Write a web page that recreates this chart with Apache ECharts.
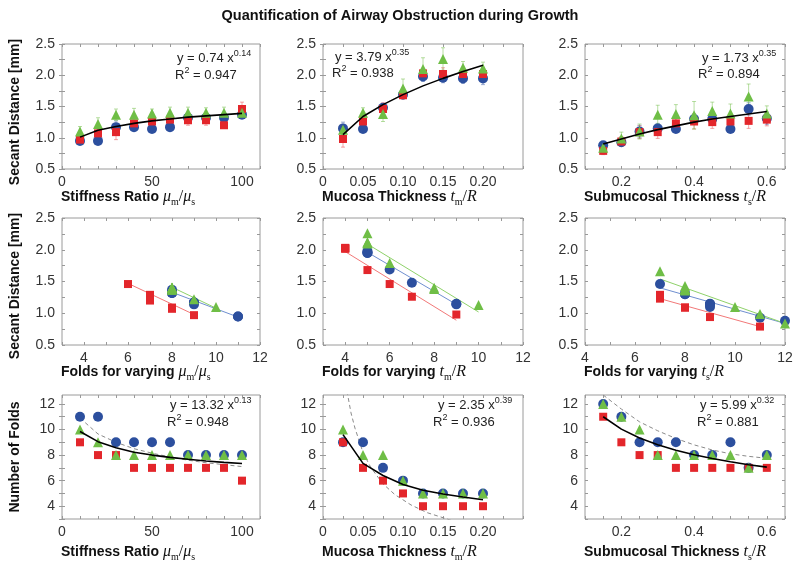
<!DOCTYPE html>
<html><head><meta charset="utf-8">
<script src="https://cdn.jsdelivr.net/npm/echarts@6/dist/echarts.min.js"></script>
<style>html,body{margin:0;padding:0;background:#fff}#c{width:800px;height:564px}</style>
</head><body><div id="c"></div><script>
// ---------- data ----------
const stiffX = [10,20,30,40,50,60,70,80,90,100];
const mucX = [0.025,0.05,0.075,0.1,0.125,0.15,0.175,0.2];
const subX = [0.15,0.2,0.25,0.3,0.35,0.4,0.45,0.5,0.55,0.6];

// secant distance [mm]
const secStiffBlue  = [0.95,0.95,1.17,1.17,1.14,1.17,1.32,1.32,1.32,1.37];
const secStiffRed   = [0.97,1.07,1.09,1.23,1.26,1.29,1.28,1.28,1.20,1.46];
const secStiffGreen = [1.10,1.22,1.37,1.37,1.39,1.40,1.40,1.40,1.40,1.40];
const errStiffBlue  = [0.05,0.03,0.10,0.04,0.04,0.04,0.05,0.05,0.05,0.05];
const errStiffRed   = [0.04,0.05,0.12,0.05,0.05,0.06,0.08,0.08,0.05,0.11];
const errStiffGreen = [0.08,0.10,0.09,0.10,0.07,0.09,0.09,0.08,0.09,0.08];

const secMucBlue  = [1.15,1.14,1.48,1.69,1.98,1.96,1.95,1.95];
const secMucRed   = [0.98,1.26,1.46,1.68,2.03,2.02,2.02,2.02];
const secMucGreen = [1.13,1.40,1.38,1.79,2.10,2.26,2.12,2.11];
const errMucBlue  = [0.10,0.04,0.06,0.05,0.08,0.08,0.08,0.10];
const errMucRed   = [0.13,0.08,0.10,0.05,0.08,0.10,0.08,0.10];
const errMucGreen = [0.08,0.08,0.12,0.15,0.18,0.18,0.10,0.10];

const secSubBlue  = [0.88,0.93,1.10,1.15,1.14,1.30,1.30,1.14,1.46,1.31];
const secSubRed   = [0.79,0.94,1.09,1.09,1.23,1.26,1.25,1.26,1.27,1.29];
const secSubGreen = [0.84,0.99,1.10,1.37,1.38,1.36,1.43,1.39,1.66,1.39];
const errSubBlue  = [0.05,0.06,0.10,0.08,0.05,0.08,0.08,0.05,0.10,0.10];
const errSubRed   = [0.06,0.08,0.10,0.10,0.08,0.12,0.10,0.10,0.12,0.10];
const errSubGreen = [0.05,0.10,0.12,0.15,0.15,0.22,0.14,0.15,0.20,0.12];

// number of folds
const foldStiffBlue  = [11,11,9,9,9,9,8,8,8,8];
const foldStiffRed   = [9,8,8,7,7,7,7,7,7,6];
const foldStiffGreen = [10,9,8,8,8,8,8,8,8,8];
const foldMucBlue  = [9,9,7,6,5,5,5,5];
const foldMucRed   = [9,7,6,5,4,4,4,4];
const foldMucGreen = [10,8,8,6,5,5,5,5];
const foldSubBlue  = [12,11,9,9,9,8,8,9,7,8];
const foldSubRed   = [11,9,8,8,7,7,7,7,7,7];
const foldSubGreen = [12,11,10,8,8,8,8,8,7,8];

// power-law fits
const fitStiffSec = [1.01,1.12,1.18,1.23,1.27,1.30,1.33,1.35,1.37,1.39];
const fitMucSec   = [1.05,1.34,1.53,1.69,1.83,1.95,2.06,2.16];
const fitSubSec   = [0.90,0.98,1.06,1.13,1.19,1.25,1.30,1.34,1.38,1.42];
const fitStiffFold = [9.85,9.05,8.58,8.22,8.00,7.82,7.67,7.54,7.43,7.34];
const fitMucFold   = [9.60,7.35,6.40,5.70,5.25,4.95,4.72,4.50];
const fitSubFold   = [11.0,10.03,9.33,8.81,8.38,8.03,7.73,7.48,7.25,7.06];

// dashed reference curves (row 3)
const dashStiffY = [10.9,9.65,9.0,8.5,8.15,7.85,7.6,7.4,7.25,7.1];
const dashMucX = [0.03,0.035,0.04,0.05,0.06,0.075,0.09,0.11,0.13,0.15,0.16];
const dashMucY = [13.0,11.3,10.1,8.2,7.0,5.75,4.9,4.1,3.5,3.1,2.9];
const dashSubY = [12.7,11.6,10.6,9.9,9.3,8.8,8.4,8.1,7.9,7.75];

// linear fits in row 2 (start/end)
const linStiffRed = {x:[6,9], y:[1.47,0.98]};
const linStiffBlue = {x:[8,11], y:[1.33,0.94]};
const linStiffGreen = {x:[8,10], y:[1.41,1.08]};
const linMucRed = {x:[4,9], y:[1.97,0.89]};
const linMucBlue = {x:[5,9], y:[1.96,1.14]};
const linMucGreen = {x:[5,10], y:[2.09,1.02]};
const linSubRed = {x:[7,11], y:[1.23,0.79]};
const linSubBlue = {x:[7,12], y:[1.40,0.84]};
const linSubGreen = {x:[7,12], y:[1.54,0.84]};

// tick labels
const stiffTicks = [0,50,100];
const mucTicks = [0,0.05,0.10,0.15,0.20];
const subTicks = [0.2,0.4,0.6];
const foldTicksX = [4,6,8,10,12];
const secTicks = [0.5,1.0,1.5,2.0,2.5];
const foldTicksY = [4,6,8,10,12];

const fitEq = [['0.74','0.14','0.947'],['3.79','0.35','0.938'],['1.73','0.35','0.894'],
               ['13.32','0.13','0.948'],['2.35','0.39','0.936'],['5.99','0.32','0.881']];
const titleText = 'Quantification of Airway Obstruction during Growth';

// ---------- layout / style ----------
const BLUE='#2c4f9e', RED='#e3262b', GREEN='#6fbe46';
const BLUE_E='rgba(44,79,158,0.45)', RED_E='rgba(227,38,43,0.4)', GREEN_E='rgba(111,190,70,0.5)';
const BLUE_L='#6f8fd0', RED_L='#f27878', GREEN_L='#8fd26a';
const colL=[62,323,585], colW=[198,200,200];
const rowT=[44,218,395], rowH=[125,127,124];

function range(a,b,s){const r=[];for(let v=a;v<=b+1e-9;v+=s)r.push(+v.toFixed(4));return r;}
const xDefs=[
  [{min:0,max:110,labels:stiffTicks,ticks:range(0,110,10),fmt:v=>String(v)},
   {min:0,max:0.25,labels:mucTicks,ticks:range(0,0.25,0.025),fmt:v=>v===0?'0':v.toFixed(2)},
   {min:0.1,max:0.65,labels:subTicks,ticks:range(0.1,0.65,0.05),fmt:v=>v.toFixed(1)}],
  [{min:3,max:12,labels:foldTicksX,ticks:range(3,12,1),fmt:v=>String(v)},
   {min:3,max:12,labels:foldTicksX,ticks:range(3,12,1),fmt:v=>String(v)},
   {min:4,max:12,labels:foldTicksX,ticks:range(4,12,1),fmt:v=>String(v)}]
];
xDefs.push(xDefs[0]);
const yDefs=[
  {min:0.5,max:2.5,labels:secTicks,ticks:range(0.5,2.5,0.25),fmt:v=>v.toFixed(1)},
  {min:0.5,max:2.5,labels:secTicks,ticks:range(0.5,2.5,0.25),fmt:v=>v.toFixed(1)},
  {min:3,max:12.7,labels:foldTicksY,ticks:range(3,12,1),fmt:v=>String(v)}
];

const grids=[], xAxes=[], yAxes=[], series=[];
const labelStyle={fontFamily:'Liberation Sans',fontSize:14,color:'#333'};
for(let r=0;r<3;r++)for(let c=0;c<3;c++){
  const gi=r*3+c;
  grids.push({left:colL[c],top:rowT[r],width:colW[c],height:rowH[r],show:true,borderColor:'#9a9a9a',borderWidth:1,backgroundColor:'transparent'});
  const xd=xDefs[r][c], yd=yDefs[r];
  ['bottom','top'].forEach(pos=>xAxes.push({type:'value',gridIndex:gi,position:pos,min:xd.min,max:xd.max,
    axisLine:{show:false},splitLine:{show:false},
    axisTick:{show:true,inside:true,length:3,customValues:xd.ticks,lineStyle:{color:'#999'}},
    axisLabel:Object.assign({show:pos==='bottom',customValues:xd.labels,formatter:xd.fmt,margin:6},labelStyle)}));
  ['left','right'].forEach(pos=>yAxes.push({type:'value',gridIndex:gi,position:pos,min:yd.min,max:yd.max,
    axisLine:{show:false},splitLine:{show:false},
    axisTick:{show:true,inside:true,length:3,customValues:yd.ticks,lineStyle:{color:'#999'}},
    axisLabel:Object.assign({show:pos==='left',customValues:yd.labels,formatter:yd.fmt,margin:7},labelStyle)}));
}
const axIdx=gi=>({xAxisIndex:gi*2,yAxisIndex:gi*2});
const pairs=(xs,ys)=>xs.map((x,i)=>[x,ys[i]]);

function scatter(gi,data,color,symbol){
  const size = symbol==='circle'?10:(symbol==='rect'?8:10);
  series.push(Object.assign({type:'scatter',data,symbol,symbolSize:size,itemStyle:{color,opacity:1},z:5,silent:true},axIdx(gi)));
}
function errbars(gi,xs,ys,es,color){
  series.push(Object.assign({type:'custom',z:3,silent:true,data:xs.map((x,i)=>[x,ys[i],es[i]]),
    renderItem:(p,api)=>{const x=api.value(0),y=api.value(1),e=api.value(2);
      const t=api.coord([x,y+e]),b=api.coord([x,y-e]);const w=2;
      const st={stroke:color,lineWidth:1};
      return {type:'group',children:[
        {type:'line',shape:{x1:t[0],y1:t[1],x2:b[0],y2:b[1]},style:st},
        {type:'line',shape:{x1:t[0]-w,y1:t[1],x2:t[0]+w,y2:t[1]},style:st},
        {type:'line',shape:{x1:b[0]-w,y1:b[1],x2:b[0]+w,y2:b[1]},style:st}]};}},axIdx(gi)));
}
function line(gi,data,color,width,dashed,z){
  series.push(Object.assign({type:'line',data,symbol:'none',clip:true,silent:true,z:z,
    lineStyle:{color,width,type:dashed?[4,3]:'solid'}},axIdx(gi)));
}

// row 1: secant distance
const row1=[
  [stiffX,secStiffBlue,secStiffRed,secStiffGreen,errStiffBlue,errStiffRed,errStiffGreen,fitStiffSec],
  [mucX,secMucBlue,secMucRed,secMucGreen,errMucBlue,errMucRed,errMucGreen,fitMucSec],
  [subX,secSubBlue,secSubRed,secSubGreen,errSubBlue,errSubRed,errSubGreen,fitSubSec]];
row1.forEach((d,c)=>{
  const [xs,b,rd,g,eb,er,eg,fit]=d;
  errbars(c,xs,b,eb,BLUE_E);errbars(c,xs,rd,er,RED_E);errbars(c,xs,g,eg,GREEN_E);
  scatter(c,pairs(xs,b),BLUE,'circle');scatter(c,pairs(xs,rd),RED,'rect');scatter(c,pairs(xs,g),GREEN,'triangle');
  line(c,pairs(xs,fit),'#000',1.6,false,8);
});
// row 2: secant vs folds
const row2=[
  [[foldStiffBlue,secStiffBlue],[foldStiffRed,secStiffRed],[foldStiffGreen,secStiffGreen],[linStiffBlue,linStiffRed,linStiffGreen]],
  [[foldMucBlue,secMucBlue],[foldMucRed,secMucRed],[foldMucGreen,secMucGreen],[linMucBlue,linMucRed,linMucGreen]],
  [[foldSubBlue,secSubBlue],[foldSubRed,secSubRed],[foldSubGreen,secSubGreen],[linSubBlue,linSubRed,linSubGreen]]];
row2.forEach((d,c)=>{
  const gi=3+c;
  const [lb,lr,lg]=d[3];
  line(gi,pairs(lb.x,lb.y),BLUE_L,1,false,2);line(gi,pairs(lr.x,lr.y),RED_L,1,false,2);line(gi,pairs(lg.x,lg.y),GREEN_L,1,false,2);
  scatter(gi,pairs(d[0][0],d[0][1]),BLUE,'circle');scatter(gi,pairs(d[1][0],d[1][1]),RED,'rect');scatter(gi,pairs(d[2][0],d[2][1]),GREEN,'triangle');
});
// row 3: folds
const row3=[
  [stiffX,foldStiffBlue,foldStiffRed,foldStiffGreen,fitStiffFold,stiffX,dashStiffY],
  [mucX,foldMucBlue,foldMucRed,foldMucGreen,fitMucFold,dashMucX,dashMucY],
  [subX,foldSubBlue,foldSubRed,foldSubGreen,fitSubFold,subX,dashSubY]];
row3.forEach((d,c)=>{
  const gi=6+c;const [xs,b,rd,g,fit,dx,dy]=d;
  line(gi,pairs(dx,dy),'#8a8a8a',1,true,2);
  scatter(gi,pairs(xs,b),BLUE,'circle');scatter(gi,pairs(xs,rd),RED,'rect');scatter(gi,pairs(xs,g),GREEN,'triangle');
  line(gi,pairs(xs,fit),'#000',1.6,false,8);
});

// ---------- text ----------
const rt={
  b:{fontFamily:'Liberation Sans',fontWeight:'bold',fontSize:14,fill:'#111',lineHeight:20},
  i:{fontFamily:'Liberation Serif',fontStyle:'italic',fontSize:16,fill:'#111',lineHeight:20},
  r:{fontFamily:'Liberation Serif',fontSize:16,fill:'#111',lineHeight:20},
  s:{fontFamily:'Liberation Serif',fontSize:10,fill:'#111',lineHeight:12,verticalAlign:'bottom'},
  a:{fontFamily:'Liberation Sans',fontSize:13,fill:'#222',lineHeight:18},
  p:{fontFamily:'Liberation Sans',fontSize:9,fill:'#222',lineHeight:9,verticalAlign:'top'}
};
const xTitles=[
  ['{b|Stiffness Ratio }{i|μ}{s|m}{r|/}{i|μ}{s|s}','{b|Mucosa Thickness }{i|t}{s|m}{r|/}{i|R}','{b|Submucosal Thickness }{i|t}{s|s}{r|/}{i|R}'],
  ['{b|Folds for varying }{i|μ}{s|m}{r|/}{i|μ}{s|s}','{b|Folds for varying }{i|t}{s|m}{r|/}{i|R}','{b|Folds for varying }{i|t}{s|s}{r|/}{i|R}']];
xTitles.push(xTitles[0]);
const xTitleY=[197,372,552];
const yTitles=['Secant Distance [mm]','Secant Distance [mm]','Number of Folds'];
const yTitleY=[112,286,457];
const graphic=[{type:'text',x:400,y:16,style:{text:titleText,font:'bold 14.5px "Liberation Sans"',fill:'#111',textAlign:'center',textVerticalAlign:'middle'}}];
for(let r=0;r<3;r++){
  for(let c=0;c<3;c++) graphic.push({type:'text',x:colL[c]-1,y:xTitleY[r],style:{text:xTitles[r][c],rich:rt,textAlign:'left',textVerticalAlign:'middle'}});
  graphic.push({type:'text',x:15,y:yTitleY[r],rotation:Math.PI/2,style:{text:yTitles[r],font:'bold 14px "Liberation Sans"',fill:'#111',textAlign:'center',textVerticalAlign:'middle'}});
}
const eqPos=[[177,58,175,75],[335,57,332,73],[702,58,698,74],[170,405,167,422],[438,405,433,422],[700,405,697,422]];
fitEq.forEach((e,k)=>{
  const p=eqPos[k];
  graphic.push({type:'text',x:p[0],y:p[1],style:{text:'{a|y = '+e[0]+' x}{p|'+e[1]+'}',rich:rt,textAlign:'left',textVerticalAlign:'middle'}});
  graphic.push({type:'text',x:p[2],y:p[3],style:{text:'{a|R}{p|2}{a| = '+e[2]+'}',rich:rt,textAlign:'left',textVerticalAlign:'middle'}});
});

const chart=echarts.init(document.getElementById('c'),null,{renderer:'canvas'});
chart.setOption({animation:false,backgroundColor:'#fff',grid:grids,xAxis:xAxes,yAxis:yAxes,series,graphic});
</script></body></html>
